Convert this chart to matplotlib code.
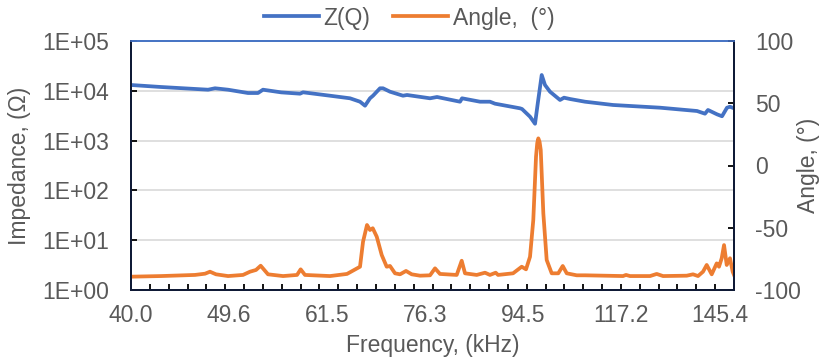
import matplotlib
matplotlib.use("Agg")
import matplotlib.pyplot as plt
import numpy as np
from matplotlib.lines import Line2D

plt.rcParams['font.family'] = ['Liberation Sans', 'DejaVu Sans']
plt.rcParams['axes.unicode_minus'] = False

# impedance curve
z_freq = [40.0, 42.72, 47.36, 48.09, 49.48, 51.69, 52.84, 53.42, 55.6, 57.94, 58.32,
          61.87, 64.65, 66.08, 66.81, 67.54, 67.99, 69.04, 69.50, 70.57, 72.61, 73.25,
          77.04, 78.23, 82.28, 82.64, 85.96, 87.86, 88.84, 93.84, 94.25, 95.92, 96.98,
          97.61, 98.41, 99.12, 100.22, 102.44, 103.34, 104.71, 108.21, 115.06, 127.54,
          138.32, 140.76, 141.69, 144.52, 146.11, 147.72, 148.69, 150.0]
z_val = [13080, 11920, 10520, 11230, 10520, 9030, 9030, 10520, 9300, 8750, 9330,
         7970, 7070, 6040, 5020, 7070, 7970, 11230, 11230, 9590, 7970, 8240,
         7070, 7510, 6040, 7070, 6040, 6040, 5510, 4450, 4310, 3020, 2180,
         6040, 20770, 13080, 9590, 6540, 7270, 6840, 6040, 5190, 4580,
         3930, 3470, 4120, 3370, 3080, 4580, 4790, 4450]

# phase angle curve
a_freq = [40.0, 42.72, 46.02, 47.05, 47.56, 48.19, 49.48, 51.13, 51.92, 52.61, 53.15,
          54.01, 55.82, 57.56, 58.02, 58.57, 61.87, 64.22, 66.08, 66.52, 67.10, 67.54,
          67.95, 68.55, 69.30, 70.06, 70.57, 71.35, 72.14, 73.09, 74.01, 75.37, 77.04,
          77.89, 78.74, 81.68, 82.58, 83.18, 85.34, 86.91, 87.86, 88.97, 89.43, 92.42,
          94.19, 95.08, 95.92, 96.61, 97.19, 97.45, 97.68, 97.95, 98.20, 98.76, 99.49,
          100.59, 102.05, 103.05, 103.96, 106.26, 108.21, 117.61, 118.38, 119.42, 124.78,
          126.62, 128.39, 135.23, 137.11, 138.63, 140.15, 141.29, 142.85, 144.42, 145.15,
          146.01, 146.76, 147.63, 148.69, 149.57, 150.0]
a_val = [-89.3, -88.8, -87.9, -86.9, -85.3, -87.4, -88.8, -87.9, -85.3, -83.9, -80.5,
         -87.4, -88.8, -87.9, -83.4, -87.9, -88.8, -87.1, -81.3, -61.2, -47.8, -51.8,
         -50.4, -57.2, -71.9, -81.3, -80.7, -86.6, -87.4, -84.7, -87.4, -88.5, -88.2,
         -82.6, -87.1, -87.9, -76.5, -86.6, -87.9, -86.1, -87.9, -86.1, -87.9, -86.6,
         -81.3, -83.4, -73.3, -43.8, 7.1, 18.0, 21.8, 19.0, 12.5, -38.4, -75.9,
         -86.6, -86.6, -80.7, -86.6, -88.2, -88.2, -88.8, -87.9, -88.8, -88.8,
         -87.1, -88.8, -88.5, -87.4, -88.8, -85.3, -79.9, -87.4, -78.6, -81.3,
         -74.5, -63.9, -79.9, -74.5, -85.3, -87.9]

x_labels = ['40.0', '49.6', '61.5', '76.3', '94.5', '117.2', '145.4']
left_labels = ['1E+00', '1E+01', '1E+02', '1E+03', '1E+04', '1E+05']
right_ticks = [-100, -50, 0, 50, 100]

blue = '#4472C4'
orange = '#ED7D31'
txt = '#595959'
dark = '#0f1a36'
fs = 16.5

fig = plt.figure(figsize=(8.19, 3.6), dpi=100)
ax = fig.add_axes([131/819, 1-290/360, 603/819, 249/360])
ax2 = ax.twinx()

ax.plot(z_freq, z_val, color=blue, lw=2.7, solid_joinstyle='round')
ax2.plot(a_freq, a_val, color=orange, lw=2.7, solid_joinstyle='round')

ax.set_xscale('log')
ax.set_yscale('log')
ax.set_xlim(40, 150)
ax.set_ylim(1, 1e5)
ax2.set_ylim(-100, 100)

ax.set_xticks([float(s) for s in x_labels])
ax.set_xticklabels(x_labels)
ax.set_xticks(np.geomspace(40, 150, 33), minor=True)
ax.xaxis.set_minor_formatter(plt.NullFormatter())
ax.tick_params(axis='x', which='major', length=0, pad=10, labelsize=fs, labelcolor=txt)
ax.tick_params(axis='x', which='minor', direction='in', length=4.5, width=1.3, color='black')

ax.set_yticks([10.0**i for i in range(6)])
ax.set_yticklabels(left_labels)
ax.yaxis.set_minor_locator(plt.NullLocator())
ax.tick_params(axis='y', direction='in', length=4.5, width=1.3, color='black',
               pad=16, labelsize=fs, labelcolor=txt)

ax2.set_yticks(right_ticks)
ax2.tick_params(axis='y', direction='in', length=4.5, width=1.3, color='black',
                pad=15, labelsize=fs, labelcolor=txt)

ax.grid(axis='y', which='major', color='#d9d9d9', lw=1.2)
ax.set_axisbelow(True)

for a in (ax, ax2):
    for s in ('left', 'bottom', 'right'):
        a.spines[s].set_color(dark)
        a.spines[s].set_linewidth(1.4)
    a.spines['top'].set_color(blue)
    a.spines['top'].set_linewidth(1.2)

ax.set_xlabel('Frequency, (kHz)', fontsize=fs, color=txt)
ax.xaxis.set_label_coords(0.5, -0.175)
ax.set_ylabel('Impedance, (Ω)', fontsize=fs, color=txt)
ax.yaxis.set_label_coords(-0.166, 0.5)
ax2.set_ylabel('Angle, (°)', fontsize=fs, color=txt)
ax2.yaxis.set_label_coords(1.104, 0.5)

handles = [Line2D([], [], color=blue, lw=2.7), Line2D([], [], color=orange, lw=2.7)]
fig.legend(handles, ['Z(Q)', 'Angle,  (°)'], loc='center', bbox_to_anchor=(0.4995, 0.95),
           ncol=2, frameon=False, fontsize=fs, labelcolor=txt, handlelength=2.4,
           handletextpad=0.2, columnspacing=1.0, borderpad=0)

fig.savefig('out.png', dpi=100)
